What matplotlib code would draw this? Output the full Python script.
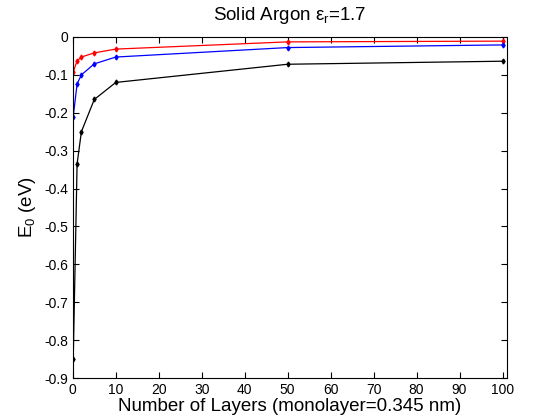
import matplotlib
matplotlib.use('Agg')
import matplotlib.pyplot as plt

plt.rcParams['font.family'] = ['Liberation Sans', 'DejaVu Sans']
plt.rcParams['mathtext.fontset'] = 'custom'
plt.rcParams['mathtext.rm'] = 'Liberation Sans'
plt.rcParams['mathtext.it'] = 'Liberation Sans'

# Data
layers = [0.1, 1, 2, 5, 10, 50, 100]
e_red = [-0.092, -0.063, -0.053, -0.042, -0.032, -0.013, -0.011]
e_blue = [-0.21, -0.124, -0.100, -0.071, -0.053, -0.028, -0.021]
e_black = [-0.85, -0.335, -0.250, -0.165, -0.120, -0.072, -0.064]

y_ticks = [0, -0.1, -0.2, -0.3, -0.4, -0.5, -0.6, -0.7, -0.8, -0.9]
y_labels = ['0', '-0.1', '-0.2', '-0.3', '-0.4', '-0.5', '-0.6', '-0.7', '-0.8', '-0.9']
x_ticks = list(range(0, 101, 10))

fig = plt.figure(figsize=(5.6, 4.2), dpi=100)
ax = fig.add_axes([0.13, 0.1, 0.775, 0.812])

ax.plot(layers, e_red, color='red', marker='d', markersize=2.5, linewidth=0.9)
ax.plot(layers, e_blue, color='blue', marker='d', markersize=2.5, linewidth=0.9)
ax.plot(layers, e_black, color='black', marker='d', markersize=2.5, linewidth=0.9)

ax.set_xlim(0, 101)
ax.set_ylim(-0.9, 0)
ax.set_xticks(x_ticks)
ax.set_yticks(y_ticks)
ax.set_yticklabels(y_labels)
ax.tick_params(direction='in', top=True, right=True, labelsize=10, length=4)

ax.set_title(r'Solid Argon $\varepsilon_r$=1.7', fontsize=13.5, pad=12)
ax.set_xlabel('Number of Layers (monolayer=0.345 nm)', fontsize=13.5, labelpad=1)
ax.set_ylabel(r'E$_0$ (eV)', fontsize=13.5)

fig.savefig('out.png', dpi=100)
